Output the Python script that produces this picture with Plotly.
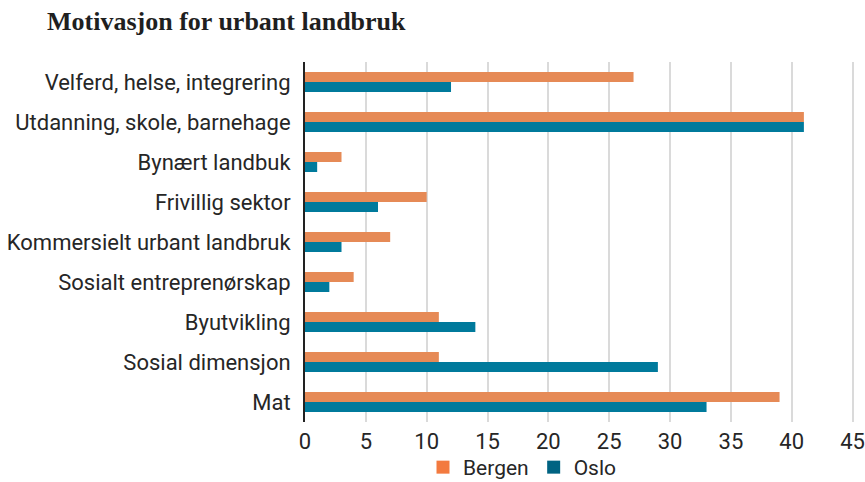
import plotly.graph_objects as go

categories = [
    "Velferd, helse, integrering",
    "Utdanning, skole, barnehage",
    "Bynært landbuk",
    "Frivillig sektor",
    "Kommersielt urbant landbruk",
    "Sosialt entreprenørskap",
    "Byutvikling",
    "Sosial dimensjon",
    "Mat",
]
bergen = [27, 41, 3, 10, 7, 4, 11, 11, 39]
oslo = [12, 41, 1, 6, 3, 2, 14, 29, 33]
x_ticks = [0, 5, 10, 15, 20, 25, 30, 35, 40, 45]

BERGEN_BAR = "#E68A56"
OSLO_BAR = "#007A9C"
BERGEN_KEY = "#F37A3F"
OSLO_KEY = "#006382"
SANS = "Roboto, 'Open Sans', sans-serif"
TEXT = "#262626"

fig = go.Figure()
fig.add_trace(go.Bar(y=categories, x=bergen, name="Bergen", orientation="h",
                     marker=dict(color=BERGEN_BAR, line=dict(width=0)), showlegend=False))
fig.add_trace(go.Bar(y=categories, x=oslo, name="Oslo", orientation="h",
                     marker=dict(color=OSLO_BAR, line=dict(width=0)), showlegend=False))

# legend keys (square swatches)
for name, col in [("Bergen", BERGEN_KEY), ("Oslo", OSLO_KEY)]:
    fig.add_trace(go.Scatter(x=[None], y=[None], mode="markers", name=name,
                             marker=dict(symbol="square", size=13, color=col)))

fig.update_layout(
    width=865, height=482,
    margin=dict(l=305, r=10, t=62, b=60),
    paper_bgcolor="white", plot_bgcolor="white",
    barmode="group", bargap=0.5, bargroupgap=0,
    title=dict(text="<b>Motivasjon for urbant landbruk</b>",
               x=47 / 865, xanchor="left", y=1 - 21 / 482, yanchor="middle",
               font=dict(family="'Liberation Serif', 'DejaVu Serif', serif", size=26, color="#1f1f1f")),
    font=dict(family=SANS, size=22, color=TEXT),
    xaxis=dict(range=[0, 45.2], tickvals=x_ticks, showgrid=True, gridcolor="#DADADA",
               gridwidth=2, zeroline=False, showline=False, ticks="", automargin=False,
               ticklabelstandoff=4, ticklabeloverflow="allow",
               tickfont=dict(size=22, color=TEXT)),
    yaxis=dict(autorange="reversed", showline=True, linecolor="#222", linewidth=2,
               ticks="", ticklabelstandoff=8, showgrid=False, automargin=False,
               tickfont=dict(size=22, color=TEXT)),
    legend=dict(orientation="h", xref="container", x=423 / 865, xanchor="left",
                yref="container", y=35 / 482, yanchor="top", bgcolor="rgba(0,0,0,0)",
                font=dict(size=21, color=TEXT), itemwidth=30),
    showlegend=True,
)

fig.write_html("out.html")
